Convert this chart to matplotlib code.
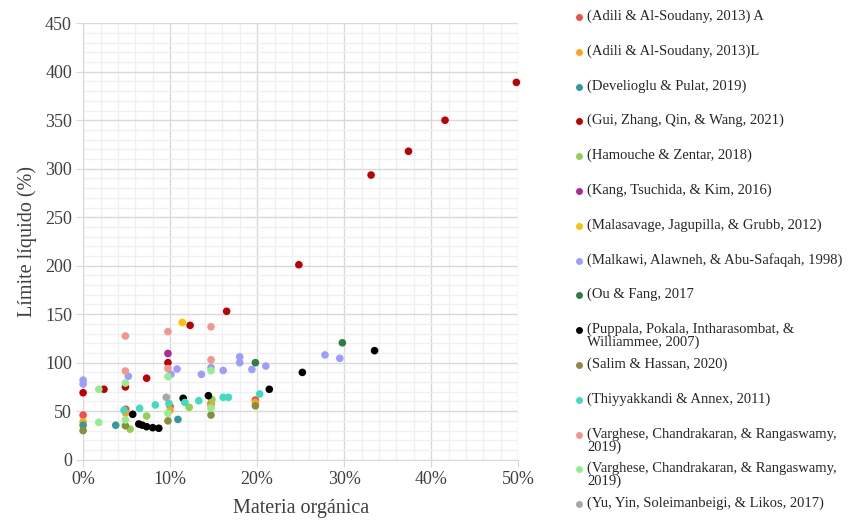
import matplotlib
matplotlib.use("Agg")
import matplotlib.pyplot as plt
from matplotlib.lines import Line2D
from matplotlib.ticker import MultipleLocator, PercentFormatter

plt.rcParams['font.family'] = ['Liberation Serif', 'DejaVu Serif']

# Datos: materia orgánica (fracción) y límite líquido (%) por referencia
adili_a_x = [0.0, 0.049, 0.10, 0.147, 0.198]
adili_a_y = [46, 52, 55, 58, 61.5]
adili_l_x = [0.0, 0.049, 0.10, 0.147, 0.198]
adili_l_y = [39, 48, 51, 56, 59]
develioglu_x = [0.0, 0.0375, 0.109]
develioglu_y = [35.5, 35.5, 41.5]
gui_x = [0.0, 0.024, 0.0486, 0.073, 0.0975, 0.123, 0.165, 0.248, 0.331, 0.374, 0.416, 0.498]
gui_y = [69, 72.6, 75, 84, 100, 138.5, 153, 201, 293.5, 318, 350, 389]
hamouche_x = [0.054, 0.073, 0.122, 0.148]
hamouche_y = [31.5, 45, 54, 62]
kang_x = [0.0975]
kang_y = [109.5]
malasavage_x = [0.114]
malasavage_y = [141.5]
malkawi_x = [0.0, 0.0, 0.052, 0.101, 0.108, 0.136, 0.147, 0.161, 0.180, 0.180, 0.194, 0.210, 0.278, 0.295]
malkawi_y = [82, 78, 86, 88, 93.5, 88, 95, 92, 106, 100, 93, 96.5, 108, 104.5]
ou_x = [0.198, 0.298]
ou_y = [100, 120.5]
puppala_x = [0.057, 0.064, 0.068, 0.073, 0.080, 0.087, 0.115, 0.144, 0.214, 0.252, 0.335]
puppala_y = [46.8, 36.8, 35.6, 34, 33, 32.4, 63.3, 66, 72.6, 90, 112.4]
salim_x = [0.0, 0.0486, 0.0975, 0.147, 0.198]
salim_y = [30, 35, 40, 46, 55.5]
thiyya_x = [0.047, 0.065, 0.083, 0.0986, 0.117, 0.133, 0.161, 0.167, 0.203]
thiyya_y = [51, 53, 56.4, 58, 59, 60.8, 64.3, 64.3, 67.7]
varg1_x = [0.0486, 0.0486, 0.0975, 0.0975, 0.147, 0.147]
varg1_y = [127.5, 91.4, 132, 94, 137, 103]
varg2_x = [0.018, 0.018, 0.0486, 0.0486, 0.0975, 0.0975, 0.147, 0.147]
varg2_y = [72.6, 38.5, 79, 41, 85.6, 47.8, 91.8, 53]
yu_x = [0.0956]
yu_y = [64.3]

series = [
    ("(Adili & Al-Soudany, 2013) A", adili_a_x, adili_a_y, "#F0504A"),
    ("(Adili & Al-Soudany, 2013)L", adili_l_x, adili_l_y, "#FFA319"),
    ("(Develioglu & Pulat, 2019)", develioglu_x, develioglu_y, "#2E9C9C"),
    ("(Gui, Zhang, Qin, & Wang, 2021)", gui_x, gui_y, "#C00000"),
    ("(Hamouche & Zentar, 2018)", hamouche_x, hamouche_y, "#92D050"),
    ("(Kang, Tsuchida, & Kim, 2016)", kang_x, kang_y, "#B3259B"),
    ("(Malasavage, Jagupilla, & Grubb, 2012)", malasavage_x, malasavage_y, "#FFC000"),
    ("(Malkawi, Alawneh, & Abu-Safaqah, 1998)", malkawi_x, malkawi_y, "#9D9DFF"),
    ("(Ou & Fang, 2017", ou_x, ou_y, "#2E7D42"),
    ("(Puppala, Pokala, Intharasombat, &\nWilliammee, 2007)", puppala_x, puppala_y, "#000000"),
    ("(Salim & Hassan, 2020)", salim_x, salim_y, "#8C8C3C"),
    ("(Thiyyakkandi & Annex, 2011)", thiyya_x, thiyya_y, "#3EDCC0"),
    ("(Varghese, Chandrakaran, & Rangaswamy,\n2019)", varg1_x, varg1_y, "#F4968C"),
    ("(Varghese, Chandrakaran, & Rangaswamy,\n2019)", varg2_x, varg2_y, "#90F090"),
    ("(Yu, Yin, Soleimanbeigi, & Likos, 2017)", yu_x, yu_y, "#A6A6A6"),
]

fig = plt.figure(figsize=(8.48, 5.21), dpi=100)
ax = fig.add_axes([0.098, 0.1177, 0.513, 0.8377])

for label, xs, ys, color in series:
    ax.scatter(xs, ys, s=30, color=color, edgecolors='none', zorder=3, clip_on=False)

ax.set_xlim(0, 0.5)
ax.set_ylim(0, 450)
ax.xaxis.set_major_locator(MultipleLocator(0.1))
ax.xaxis.set_minor_locator(MultipleLocator(0.02))
ax.yaxis.set_major_locator(MultipleLocator(50))
ax.yaxis.set_minor_locator(MultipleLocator(10))
ax.xaxis.set_major_formatter(PercentFormatter(1.0, decimals=0))
ax.grid(which='major', color='#D9D9D9', linewidth=1.0, zorder=0)
ax.grid(which='minor', color='#F0F0F0', linewidth=1.0, zorder=0)
ax.set_axisbelow(True)
for side in ['top', 'right']:
    ax.spines[side].set_visible(False)
ax.spines['left'].set_color('#D9D9D9')
ax.spines['bottom'].set_color('#D9D9D9')
ax.tick_params(which='major', length=5, color='#D9D9D9', labelsize=13, labelcolor='#404040', pad=3)
ax.tick_params(which='minor', length=0)
ax.set_xlabel("Materia orgánica", fontsize=14.5, color='#404040', labelpad=8)
ax.set_ylabel("Límite líquido (%)", fontsize=14.5, color='#404040', labelpad=6)

# Leyenda dibujada a mano a la derecha
y0 = 17
for i, (label, xs, ys, color) in enumerate(series):
    yc = y0 + i * 34.8
    fig.add_artist(Line2D([579 / 848], [1 - yc / 521], transform=fig.transFigure,
                          marker='o', markersize=5, color=color, markeredgewidth=0, linestyle='none'))
    fig.text(587 / 848, 1 - (yc - 7.5) / 521, label, fontsize=10.5, va='top', ha='left',
             color='#262626', linespacing=0.95)

fig.savefig("out.png", dpi=100)
